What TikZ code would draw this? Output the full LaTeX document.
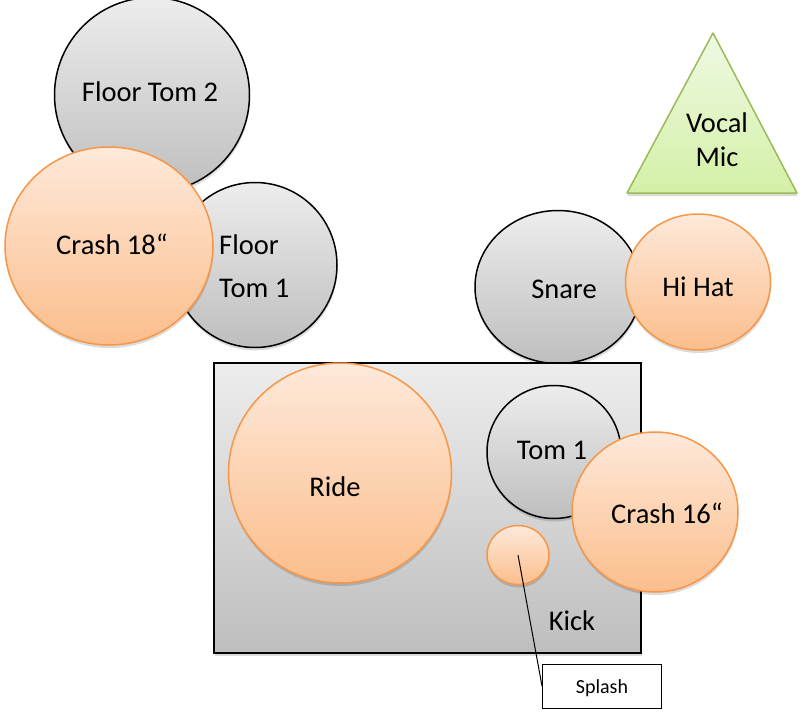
\documentclass[tikz,border=0pt]{standalone}
\usepackage{fontspec}
\setmainfont{Carlito}
\usetikzlibrary{shapes.geometric,shadows}
\definecolor{grayTop}{HTML}{EDEDED}
\definecolor{grayBot}{HTML}{BEBEBE}
\definecolor{orTop}{HTML}{FEE9DA}
\definecolor{orBot}{HTML}{FBBE8C}
\definecolor{orLine}{HTML}{F79646}
\definecolor{grTop}{HTML}{EFF9E4}
\definecolor{grBot}{HTML}{D3F0A6}
\definecolor{grLine}{HTML}{9BBB59}
\begin{document}
\begin{tikzpicture}[x=1pt,y=-1pt,
  shad/.style={drop shadow={opacity=0.14, shadow xshift=0.5pt, shadow yshift=-3pt, fill=black}},
  drum/.style={ellipse, shad, draw=black, line width=1.5pt, top color=grayTop, bottom color=grayBot, inner sep=0pt},
  cym/.style={ellipse, shad, draw=orLine, line width=1.5pt, top color=orTop, bottom color=orBot, inner sep=0pt},
  lbl/.style={font=\fontsize{28.5}{34}\selectfont, inner sep=0pt, align=center},
  small/.style={font=\fontsize{20}{24}\selectfont, inner sep=0pt},
]
\useasboundingbox (0,0) rectangle (804,712);

% upper left group
\node[drum, minimum width=195pt, minimum height=195pt] (ft2) at (152,95) {};
\node[drum, minimum width=164pt, minimum height=165pt] (ft1) at (255,265) {};
\node[cym, minimum width=208pt, minimum height=198pt] (cr18) at (109,246) {};
\node[lbl] (ft2t) at (150,92) {Floor Tom 2};
\node[lbl] (cr18t) at (112,244) {Crash 18“};
\node[lbl, font=\fontsize{28.5}{43}\selectfont, align=left, anchor=west] (ft1t) at (219,266) {Floor\\Tom 1};

% vocal mic
\coordinate (va) at (713,33);
\coordinate (vr) at (797,193);
\coordinate (vl) at (627,193);
\path[shad, draw=grLine, line width=1.5pt, top color=grTop, bottom color=grBot, line join=round]
  (va) -- (vr) -- (vl) -- cycle;
\node[lbl] (vmt) at (717,140) {Vocal\\Mic};

% snare and hi hat
\node[drum, minimum width=166pt, minimum height=153pt] (sn) at (558,287) {};
\node[cym, minimum width=145pt, minimum height=136pt] (hh) at (698,282) {};
\node[lbl] (snt) at (564,289) {Snare};
\node[lbl] (hht) at (698,287) {Hi Hat};

% kick box
\node[rectangle, shad, draw=black, line width=2pt, top color=grayTop, bottom color=grayBot,
      minimum width=427pt, minimum height=290pt, inner sep=0pt] (kick) at (427.5,508) {};
\node[cym, minimum width=223pt, minimum height=220pt] (ride) at (340,473) {};
\node[lbl] (ridet) at (335,487) {Ride};
\node[drum, minimum width=134pt, minimum height=133pt] (tom1) at (554,452) {};
\node[lbl] (tom1t) at (552,450) {Tom 1};
\node[cym, minimum width=166pt, minimum height=160pt] (cr16) at (655,512) {};
\node[lbl] (cr16t) at (667,513) {Crash 16“};
\node[cym, minimum width=62pt, minimum height=59pt] (spl) at (518,555) {};
\node[lbl] (kickt) at (572,621) {Kick};

% splash callout
\node[rectangle, draw=black, line width=1pt, fill=white, minimum width=119pt, minimum height=44pt,
      inner sep=0pt] (sbox) at (602,686) {};
\node[small] (sboxt) at (602,688) {Splash};
\draw[line width=1pt] (spl.center) -- (sbox.west);
\end{tikzpicture}
\end{document}
